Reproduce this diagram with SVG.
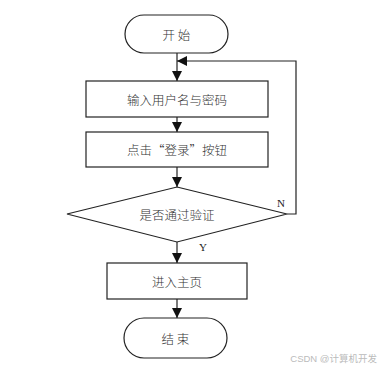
<svg xmlns="http://www.w3.org/2000/svg" width="381" height="370" viewBox="0 0 381 370">
<style>
.shape{fill:#fff;stroke:#222;stroke-width:1.2}
.line{fill:none;stroke:#222;stroke-width:1.2}
.t{font-family:"Noto Sans CJK SC","Liberation Serif",serif;font-size:12.5px;font-weight:300;fill:#333;text-anchor:middle;dominant-baseline:central}
.lbl{font-family:"Liberation Serif",serif;font-size:11px;fill:#222;text-anchor:middle}
.wm{font-family:"Liberation Sans","Noto Sans CJK SC",sans-serif;font-size:9.5px;fill:#bbb;text-anchor:end}
</style>
<defs>
<marker id="arr" viewBox="0 0 10 10" refX="10" refY="5" markerWidth="10" markerHeight="10" markerUnits="userSpaceOnUse" orient="auto">
<path d="M0,0 L10,5 L0,10 Z" fill="#111"/>
</marker>
</defs>
<g id="connectors">
<line class="line" x1="177" y1="53" x2="177" y2="81" marker-end="url(#arr)"/>
<line class="line" x1="177" y1="117" x2="177" y2="132" marker-end="url(#arr)"/>
<line class="line" x1="177" y1="167" x2="177" y2="187" marker-end="url(#arr)"/>
<line class="line" x1="177" y1="242" x2="177" y2="263" marker-end="url(#arr)"/>
<line class="line" x1="177" y1="299" x2="177" y2="318" marker-end="url(#arr)"/>
<polyline class="line" points="287,214 296,214 296,61 177,61" marker-end="url(#arr)"/>
<text class="lbl" x="281" y="207">N</text>
<text class="lbl" x="203" y="251">Y</text>
</g>
<g id="start">
<rect class="shape" x="125" y="15" width="103" height="38" rx="19"/>
<text class="t" x="176.5" y="34">开 始</text>
</g>
<g id="input">
<rect class="shape" x="86" y="81" width="182" height="36"/>
<text class="t" x="177" y="99">输入用户名与密码</text>
</g>
<g id="click">
<rect class="shape" x="86" y="132" width="182" height="35"/>
<text class="t" x="177" y="149.5">点击“登录”按钮</text>
</g>
<g id="verify">
<polygon class="shape" points="177,187 287,214 177,242 67,214"/>
<text class="t" x="177" y="214">是否通过验证</text>
</g>
<g id="home">
<rect class="shape" x="107" y="263" width="140" height="36"/>
<text class="t" x="177" y="281">进入主页</text>
</g>
<g id="end">
<rect class="shape" x="124" y="318" width="103" height="40" rx="20"/>
<text class="t" x="175.5" y="338">结 束</text>
</g>
<text class="wm" x="377" y="362">CSDN @计算机开发</text>
</svg>
